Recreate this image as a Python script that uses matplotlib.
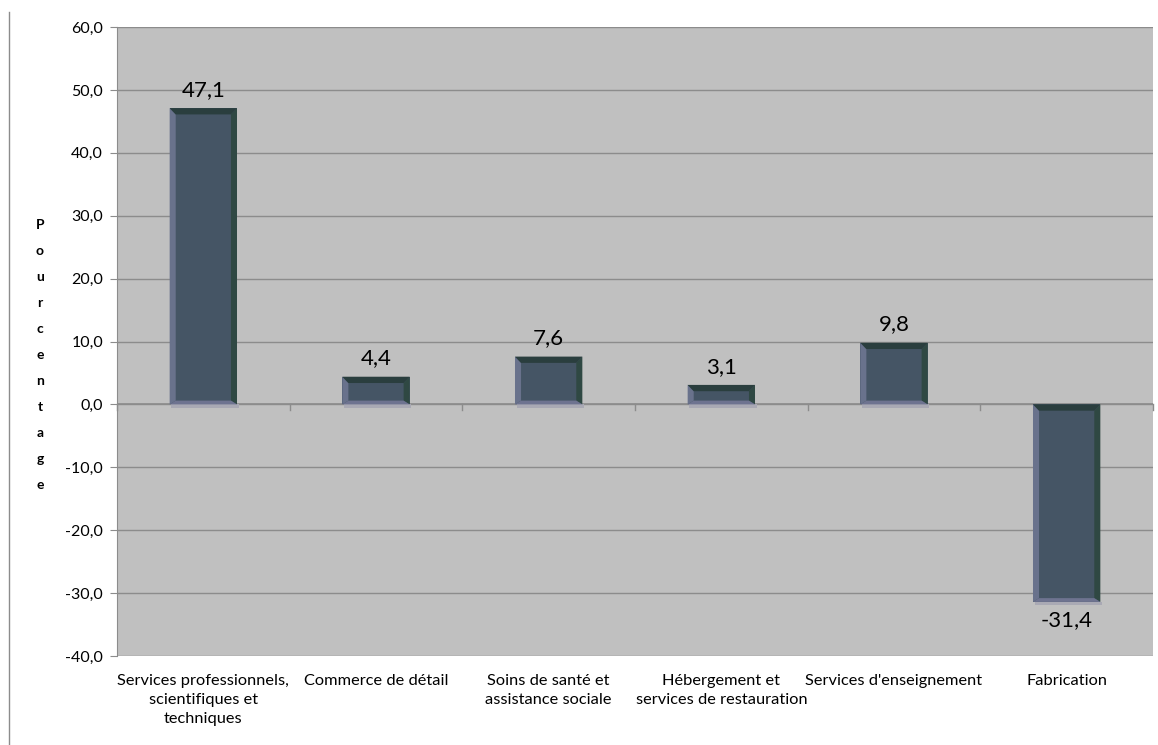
import matplotlib
matplotlib.use("Agg")
import matplotlib.pyplot as plt
from matplotlib.patches import Polygon
from matplotlib.lines import Line2D
import numpy as np

categories = [
    "Services professionnels,\nscientifiques et\ntechniques",
    "Commerce de détail",
    "Soins de santé et\nassistance sociale",
    "Hébergement et\nservices de restauration",
    "Services d'enseignement",
    "Fabrication",
]
values = [47.1, 4.4, 7.6, 3.1, 9.8, -31.4]
value_labels = ["47,1", "4,4", "7,6", "3,1", "9,8", "-31,4"]
y_ticks = [-40, -30, -20, -10, 0, 10, 20, 30, 40, 50, 60]

plt.rcParams['font.family'] = ['Lato', 'DejaVu Sans']

fig = plt.figure(figsize=(11.58, 7.45), dpi=100)
ax = fig.add_axes([117 / 1158, 1 - 656 / 745, 1036 / 1158, 629 / 745])
ax.set_facecolor("#C0C0C0")

x = np.arange(len(values))
bars = ax.bar(x, values, width=0.39, color="#455565", zorder=3)

ax.set_xlim(-0.5, len(values) - 0.5)
ax.set_ylim(-40, 60)
ax.set_yticks(y_ticks)
ax.set_yticklabels([f"{t:.1f}".replace(".", ",") for t in y_ticks], fontsize=11.5)
ax.yaxis.grid(True, color="#8C8C8C", linewidth=1, zorder=0)
ax.set_axisbelow(True)

for s in ["top", "right", "bottom"]:
    ax.spines[s].set_visible(False)
ax.spines["left"].set_color("#8C8C8C")
ax.tick_params(axis="y", length=5, color="#8C8C8C", pad=5)

# zero axis with category boundary ticks
ax.axhline(0, color="#8C8C8C", linewidth=1.2, zorder=2)
ax.set_xticks([])
for b in np.arange(-0.5, len(values), 1.0):
    ax.plot([b, b], [0, -0.9], color="#8C8C8C", linewidth=1, clip_on=False, zorder=2)

# bevel effect on each bar
dx, dy = 0.035, 1.0
for bar in bars:
    x0, w = bar.get_x(), bar.get_width()
    y0, h = bar.get_y(), bar.get_height()
    lo, hi = min(y0, y0 + h), max(y0, y0 + h)
    x1 = x0 + w
    # faint shadow under the bar
    ax.add_patch(Polygon([(x0 + 0.01, lo), (x1 + 0.01, lo), (x1 + 0.01, lo - 0.5), (x0 + 0.01, lo - 0.5)],
                         closed=True, facecolor="#A9A9B4", edgecolor="none", zorder=2.5))
    sides = [
        ([(x0, lo), (x0 + dx, lo + dy * 0.6), (x0 + dx, hi - dy), (x0, hi)], "#69728C"),
        ([(x1, lo), (x1 - dx, lo + dy * 0.6), (x1 - dx, hi - dy), (x1, hi)], "#2F4843"),
        ([(x0, hi), (x0 + dx, hi - dy), (x1 - dx, hi - dy), (x1, hi)], "#2A3E3E"),
        ([(x0, lo), (x0 + dx, lo + dy * 0.6), (x1 - dx, lo + dy * 0.6), (x1, lo)], "#6E7390"),
    ]
    for pts, c in sides:
        ax.add_patch(Polygon(pts, closed=True, facecolor=c, edgecolor="none", zorder=4))

for xi, v, lab in zip(x, values, value_labels):
    if v >= 0:
        ax.text(xi, v + 1.3, lab, ha="center", va="bottom", fontsize=16)
    else:
        ax.text(xi, v - 1.3, lab, ha="center", va="top", fontsize=16)

for xi, c in zip(x, categories):
    ax.text(xi, -42.9, c, ha="center", va="top", fontsize=11.8, linespacing=1.45)

fig.text(40 / 1158, 1 - 355 / 745, "\n".join("Pourcentage"), ha="center", va="center",
         fontsize=10, fontweight="bold", linespacing=2.4)

fig.add_artist(Line2D([9 / 1158, 9 / 1158], [0, 1 - 12 / 745], color="#8C8C8C", linewidth=1))

fig.savefig("out.png", dpi=100)
